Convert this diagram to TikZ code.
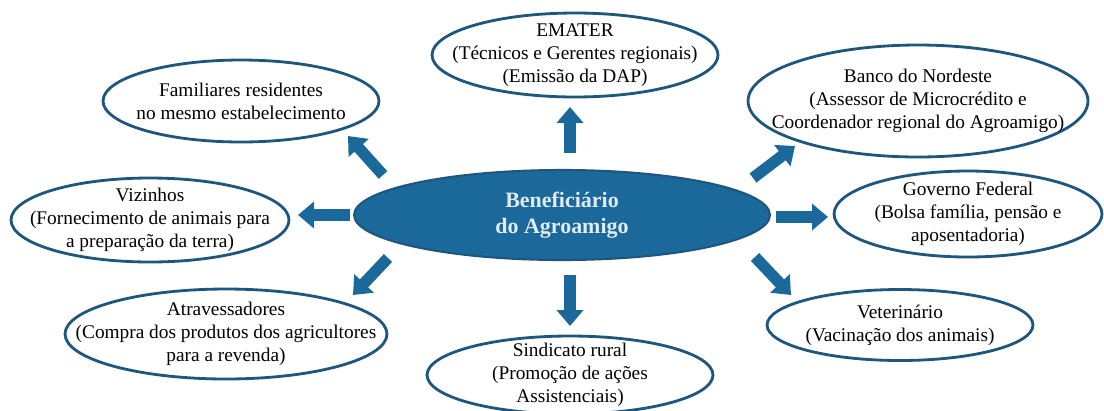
\documentclass[tikz,border=0pt]{standalone}
\usepackage{fontspec}
\setmainfont{Liberation Serif}
\usetikzlibrary{arrows.meta, shapes.geometric}
\definecolor{seablue}{RGB}{27,104,155}
\definecolor{rimblue}{RGB}{30,86,126}
\definecolor{paleblue}{RGB}{224,235,243}

\begin{document}
\begin{tikzpicture}[x=0.02cm, y=-0.02cm,
  actor/.style={draw=rimblue, line width=1.6pt, ellipse, inner sep=-3cm, align=center, font=\fontsize{11}{13}\selectfont},
  flow/.style={draw=seablue, line width=6.5pt, -{Triangle[length=0.32cm, width=0.52cm]}}]
  \useasboundingbox (0,0) rectangle (1104,410);

  \node[ellipse, draw=rimblue, line width=1.2pt, fill=seablue, inner sep=-3cm, minimum width=8.32cm, minimum height=1.8cm, align=center, text=paleblue, font=\fontsize{12.5}{14.5}\selectfont\bfseries] (ben) at (562,215) {Beneficiário\\do Agroamigo};

  \node[actor, minimum width=5.72cm, minimum height=1.68cm] (emater) at (575,55) {EMATER\\(Técnicos e Gerentes regionais)\\(Emissão da DAP)};
  \node[actor, minimum width=5.52cm, minimum height=1.64cm] (fam) at (241,101) {Familiares residentes\\no mesmo estabelecimento};
  \node[actor, minimum width=6.8cm, minimum height=2.24cm] (banco) at (918,101) {Banco do Nordeste\\(Assessor de Microcrédito e\\Coordenador regional do Agroamigo)};
  \node[actor, minimum width=5.56cm, minimum height=1.68cm] (viz) at (150,220) {Vizinhos\\(Fornecimento de animais para\\a preparação da terra)};
  \node[actor, minimum width=5.36cm, minimum height=1.72cm] (gov) at (968,214) {Governo Federal\\(Bolsa família, pensão e\\aposentadoria)};
  \node[actor, minimum width=6.44cm, minimum height=1.8cm] (atr) at (226,334) {Atravessadores\\(Compra dos produtos dos agricultores\\para a revenda)};
  \node[actor, minimum width=5.72cm, minimum height=1.56cm] (sind) at (570,375) {Sindicato rural\\(Promoção de ações\\Assistenciais)};
  \node[actor, minimum width=5.32cm, minimum height=1.42cm] (vet) at (900,325) {Veterinário\\(Vacinação dos animais)};

  \coordinate (ematerT) at (570,153); \coordinate (ematerH) at (570,107);
  \coordinate (famT) at (383,175);    \coordinate (famH) at (348,136);
  \coordinate (bancoT) at (753,178);  \coordinate (bancoH) at (795,146);
  \coordinate (vizT) at (350,215);    \coordinate (vizH) at (298,215);
  \coordinate (govT) at (776,217);    \coordinate (govH) at (828,217);
  \coordinate (atrT) at (388,258);    \coordinate (atrH) at (353,295);
  \coordinate (sindT) at (570,275);   \coordinate (sindH) at (570,326);
  \coordinate (vetT) at (755,257);    \coordinate (vetH) at (791,295);

  \draw[flow] (ematerT) -- (ematerH);
  \draw[flow] (famT) -- (famH);
  \draw[flow] (bancoT) -- (bancoH);
  \draw[flow] (vizT) -- (vizH);
  \draw[flow] (govT) -- (govH);
  \draw[flow] (atrT) -- (atrH);
  \draw[flow] (sindT) -- (sindH);
  \draw[flow] (vetT) -- (vetH);
\end{tikzpicture}
\end{document}
